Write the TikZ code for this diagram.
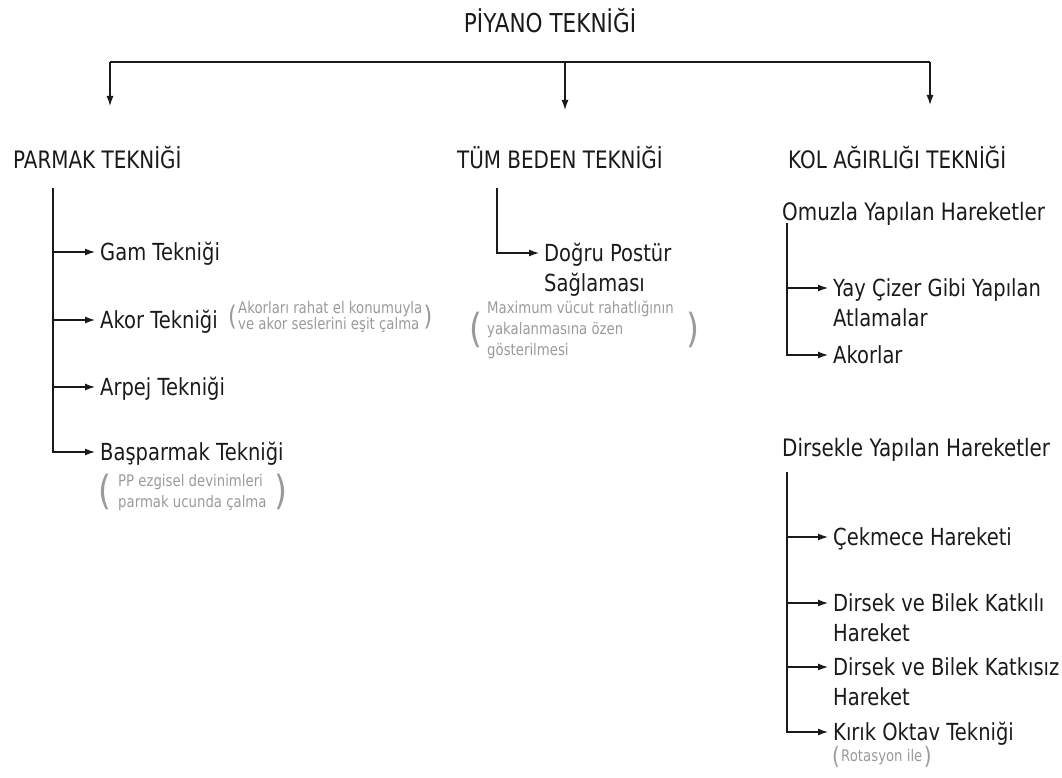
\documentclass[tikz,border=0pt]{standalone}
\usepackage{fontspec}
\setmainfont{DejaVu Sans}[FakeStretch=0.83]
\usepackage{tikz}
\usetikzlibrary{arrows.meta}
\definecolor{ink}{HTML}{1A1A1A}
\definecolor{notegray}{HTML}{9A9A9A}
\newcommand{\txtstack}[1]{\begin{tabular}[t]{@{}l@{}}#1\end{tabular}}
\tikzstyle{head} = [anchor=base west, inner sep=0pt, text=ink,
    font=\fontsize{24}{30}\selectfont]
\tikzstyle{item} = [anchor=base west, inner xsep=5pt, inner ysep=0pt,
    text=ink, font=\fontsize{23.5}{30}\selectfont]
\tikzstyle{note} = [anchor=base west, inner sep=0pt, text=notegray,
    font=\fontsize{16}{21}\selectfont]
\tikzstyle{paren} = [inner sep=0pt, text=notegray]
\tikzstyle{bar} = [draw, line width=1.3pt, ink]
\tikzstyle{line} = [draw, line width=1.3pt, ink, -{Latex[length=10pt,width=7pt]}]

\begin{document}
\begin{tikzpicture}[x=1pt,y=-1pt]
      \useasboundingbox (0,0) rectangle (1062,778);
      \node [head, anchor=base, font=\fontsize{26}{30}\selectfont] (piyano)
         at (550,33) {PİYANO TEKNİĞİ};

      % top bar
      \coordinate (barl) at (110,62);
      \coordinate (barm) at (565,62);
      \coordinate (barr) at (930,62);
      \coordinate (tipl) at (110,106);
      \coordinate (tipm) at (565,110);
      \coordinate (tipr) at (930,105);
      \path [bar] (barl) -- (barr);
      \path [line] (barl) -- (tipl);
      \path [line] (barm) -- (tipm);
      \path [line] (barr) -- (tipr);

      \node [head] (parmak) at (13,168) {PARMAK TEKNİĞİ};
      \node [head] (tum) at (457,168) {TÜM BEDEN TEKNİĞİ};
      \node [head] (kol) at (788,168) {KOL AĞIRLIĞI TEKNİĞİ};
      \node [head] (omuz) at (782,220) {Omuzla Yapılan Hareketler};
      \node [head] (dirsek) at (782,456) {Dirsekle Yapılan Hareketler};

      % parmak
      \node [item] (gam) at (95,260) {Gam Tekniği};
      \node [item] (akor) at (95,328) {Akor Tekniği};
      \node [item] (arpej) at (95,395) {Arpej Tekniği};
      \node [item] (bas) at (95,460) {Başparmak Tekniği};
      \node [note, font=\fontsize{16}{15}\selectfont] (akornote) at (238,313)
         {\txtstack{Akorları rahat el konumuyla\\ve akor seslerini eşit çalma}};
      \node [paren, anchor=east, font=\fontsize{27}{27}\selectfont] (akorl)
         at ([xshift=-1pt]akornote.west) {(};
      \node [paren, anchor=west, font=\fontsize{27}{27}\selectfont] (akorr)
         at ([xshift=1pt]akornote.east) {)};
      \node [note] (basnote) at (118,486)
         {\txtstack{PP ezgisel devinimleri\\parmak ucunda çalma}};
      \node [paren, anchor=east, font=\fontsize{40}{40}\selectfont] (basl)
         at ([xshift=-6pt]basnote.west) {(};
      \node [paren, anchor=west, font=\fontsize{40}{40}\selectfont] (basr)
         at ([xshift=8pt]basnote.east) {)};

      % tum beden
      \node [item] (postur) at (539,261) {\txtstack{Doğru Postür\\Sağlaması}};
      \node [note] (posnote) at (487,313)
         {\txtstack{Maximum vücut rahatlığının\\yakalanmasına özen\\gösterilmesi}};
      \node [paren, anchor=east, font=\fontsize{40}{40}\selectfont] (posl)
         at ([xshift=-4pt]posnote.west) {(};
      \node [paren, anchor=west, font=\fontsize{40}{40}\selectfont] (posr)
         at ([xshift=12pt]posnote.east) {)};

      % kol agirligi
      \node [item] (yay) at (828,296) {\txtstack{Yay Çizer Gibi Yapılan\\Atlamalar}};
      \node [item] (akorlar) at (828,363) {Akorlar};
      \node [item] (cekmece) at (828,545) {Çekmece Hareketi};
      \node [item] (katkili) at (828,611) {\txtstack{Dirsek ve Bilek Katkılı\\Hareket}};
      \node [item] (katkisiz) at (828,675) {\txtstack{Dirsek ve Bilek Katkısız\\Hareket}};
      \node [item] (oktav) at (828,740) {Kırık Oktav Tekniği};
      \node [note] (rotnote) at (841,761) {Rotasyon ile};
      \node [paren, anchor=east, font=\fontsize{24}{24}\selectfont] (rotl)
         at ([xshift=-1pt]rotnote.west) {(};
      \node [paren, anchor=west, font=\fontsize{24}{24}\selectfont] (rotr)
         at ([xshift=1pt]rotnote.east) {)};

      % trunks
      \coordinate (pt) at (53,188);
      \coordinate (tt) at (497,188);
      \coordinate (ot) at (787,223);
      \coordinate (dt) at (787,472);
      \path [line] (pt) |- ([yshift=8pt]bas.base west);
      \foreach \n in {gam,akor,arpej}
         \path [line] ([yshift=8pt]\n.base west -| pt) -- ([yshift=8pt]\n.base west);
      \path [line] (tt) |- ([yshift=8pt]postur.base west);
      \path [line] (ot) |- ([yshift=8pt]akorlar.base west);
      \path [line] ([yshift=8pt]yay.base west -| ot) -- ([yshift=8pt]yay.base west);
      \path [line] (dt) |- ([yshift=8pt]oktav.base west);
      \foreach \n in {cekmece,katkili,katkisiz}
         \path [line] ([yshift=8pt]\n.base west -| dt) -- ([yshift=8pt]\n.base west);
   \end{tikzpicture}
\end{document}
